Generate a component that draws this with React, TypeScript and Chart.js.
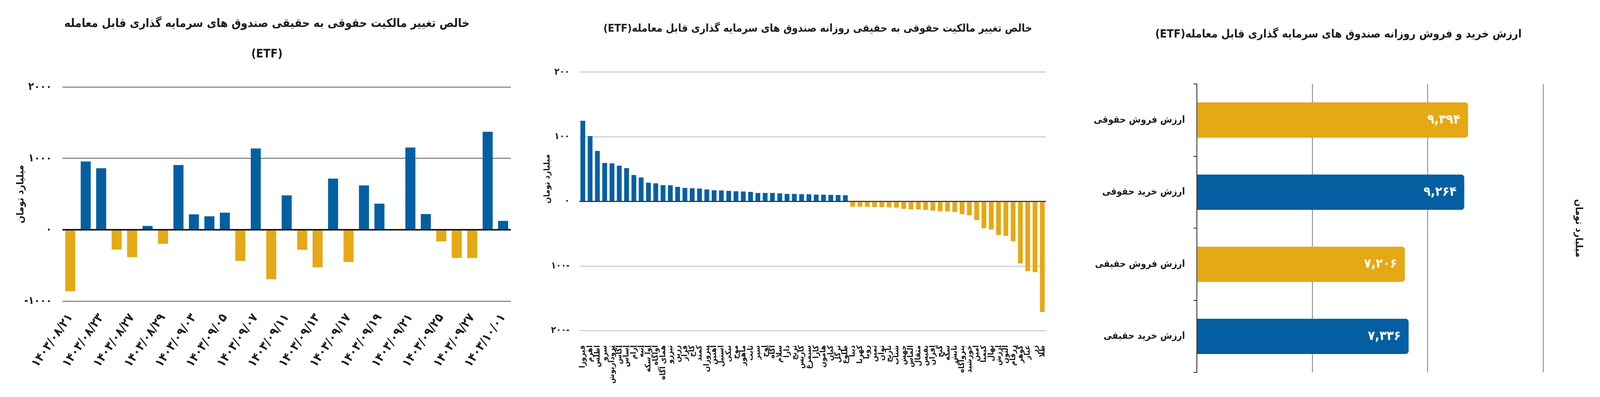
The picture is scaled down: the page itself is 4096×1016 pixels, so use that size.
import React, { useEffect, useRef } from 'react';
import { Chart, registerables } from 'chart.js';

Chart.register(...registerables);

const S = 4096 / 4171;
const FONT = "'DejaVu Sans Condensed', 'DejaVu Sans', sans-serif";
const BLUE = '#045fa2';
const YELLOW = '#e5a916';
const INK = '#1e1c1c';

const fa = (s: string) => s.replace(/\d/g, (d) => '۰۱۲۳۴۵۶۷۸۹'[Number(d)]);

// ---------- Panel 1: net change of legal-to-real ownership (by date) ----------
const title1 = ['خالص تغییر مالکیت حقوقی به حقیقی صندوق های سرمایه گذاری قابل معامله', '(ETF)'];
const dates1 = [
  '1403/08/21', '1403/08/22', '1403/08/23', '1403/08/26', '1403/08/27', '1403/08/28', '1403/08/29', '1403/08/30',
  '1403/09/03', '1403/09/04', '1403/09/05', '1403/09/06', '1403/09/07', '1403/09/10', '1403/09/11', '1403/09/12',
  '1403/09/13', '1403/09/14', '1403/09/17', '1403/09/18', '1403/09/19', '1403/09/20', '1403/09/21', '1403/09/24',
  '1403/09/25', '1403/09/26', '1403/09/27', '1403/09/28', '1403/10/01',
];
const netChange1 = [
  -862, 957, 863, -278, -383, 53, -198, 908,
  216, 189, 240, -437, 1139, -693, 482, -281,
  -528, 718, -452, 622, 365, 0, 1153, 220,
  -163, -394, -396, 1373, 125,
];
const yTicks1 = [-1000, 0, 1000, 2000];
const unitLabel = 'میلیارد تومان';

// ---------- Panel 2: daily net change by fund ----------
const title2 = 'خالص تغییر مالکیت حقوقی به حقیقی روزانه صندوق های سرمایه گذاری قابل معامله(ETF)';
const funds2 = [
  'فیروزا', 'اهرم', 'اطلس', 'سرو', 'ثروداریوش', 'آگاس', 'آساس', 'آرام', 'آتیه', 'آوا سکه',
  'آواگاه', 'همای آگاه', 'تیزرو', 'زرین', 'فراز', 'کاج', 'کمند', 'پیروزان', 'آهنین', 'استیل',
  'نیکی', 'موج', 'ماهور', 'ثابت', 'سپر', 'اوج', 'آگاه', 'سلام', 'دارا', 'ترنج',
  'کاریس', 'سیمرغ', 'کارا', 'هامون', 'کیان', 'ترگل', 'طلوع', 'دیبا', 'کهربا', 'رویا',
  'ثمین', 'توان', 'نارنج', 'شتاب', 'جهش', 'الماس', 'مثقال', 'نفیس', 'افران', 'گنج',
  'سکه', 'تابش', 'پتروآگاه', 'خورشید', 'امین', 'کیمیا', 'نهال', 'ارزش', 'آلتون', 'زرفام',
  'گوهر', 'عیار', 'زر', 'طلا',
];
const netChange2 = [
  124.8, 101.0, 78.0, 59.5, 58.9, 55.2, 51.5, 40.7, 37.0, 29.0,
  27.9, 25.1, 24.8, 22.4, 20.9, 20.3, 19.9, 18.5, 17.2, 16.8,
  16.2, 15.6, 15.4, 14.8, 13.1, 13.1, 13.1, 12.5, 11.5, 11.5,
  11.1, 10.9, 10.5, 10.3, 10.1, 9.9, 9.4, -8.2, -8.2, -8.6,
  -8.8, -8.8, -9.2, -9.8, -11.5, -12.3, -12.3, -13.3, -14.5, -15.3,
  -15.5, -16.4, -19.8, -21.5, -29.0, -41.7, -43.6, -52.1, -53.4, -61.8,
  -95.9, -107.8, -109.6, -171.2,
];

// ---------- Panel 3: daily buy / sell value ----------
const title3 = 'ارزش خرید و فروش روزانه صندوق های سرمایه گذاری قابل معامله(ETF)';
const categories3 = ['ارزش فروش حقوقی', 'ارزش خرید حقوقی', 'ارزش فروش حقیقی', 'ارزش خرید حقیقی'];
const values3 = [9394, 9264, 7206, 7336];
const colors3 = [YELLOW, BLUE, YELLOW, BLUE];

const font = (size: number, lineHeight?: number) => ({
  family: FONT,
  size: size * S,
  weight: 'bold' as const,
  ...(lineHeight ? { lineHeight } : {}),
});

const H = 1035;

function ChartPanel({ left, width, make }: { left: number; width: number; make: () => any }) {
  const ref = useRef<HTMLCanvasElement | null>(null);
  useEffect(() => {
    const chart = new Chart(ref.current as HTMLCanvasElement, make());
    return () => chart.destroy();
  }, []);
  const w = Math.round(width * S);
  const h = Math.round(H * S);
  return (
    <canvas
      ref={ref}
      width={w}
      height={h}
      style={{ position: 'absolute', left: Math.round(left * S), top: 0, width: w, height: h, direction: 'rtl' }}
    />
  );
}

// vertical unit title beside the plot area
const sideTitle = (id: string, dx: number, yAbs: number | null, rot: number, size: number) => ({
  id,
  afterDraw(chart: any) {
    const { ctx, chartArea } = chart;
    const x = rot < 0 ? chartArea.left - dx * S : chartArea.right + dx * S;
    const y = yAbs !== null ? yAbs * S : (chartArea.top + chartArea.bottom) / 2;
    ctx.save();
    ctx.translate(x, y);
    ctx.rotate(rot);
    ctx.font = `bold ${size * S}px ${FONT}`;
    ctx.fillStyle = INK;
    ctx.textAlign = 'center';
    ctx.textBaseline = 'middle';
    ctx.fillText(unitLabel, 0, 0);
    ctx.restore();
  },
});

// chart heading, centred at an offset from the plot area's left edge
const headTitle = (id: string, text: string, dx: number, y: number, size: number) => ({
  id,
  afterDraw(chart: any) {
    const { ctx, chartArea } = chart;
    ctx.save();
    ctx.font = `bold ${size * S}px ${FONT}`;
    ctx.fillStyle = INK;
    ctx.textAlign = 'center';
    ctx.textBaseline = 'middle';
    ctx.fillText(text, chartArea.left + dx * S, y * S);
    ctx.restore();
  },
});

const make1 = () => ({
  type: 'bar',
  data: {
    labels: dates1.map(fa),
    datasets: [
      {
        data: netChange1,
        backgroundColor: netChange1.map((v) => (v >= 0 ? BLUE : YELLOW)),
        barPercentage: 0.65,
        categoryPercentage: 1,
      },
    ],
  },
  options: {
    responsive: false,
    maintainAspectRatio: false,
    animation: false,
    layout: { padding: { left: 57 * S, right: 35 * S, top: 0, bottom: 0 } },
    plugins: {
      legend: { display: false },
      tooltip: { enabled: false },
      title: {
        display: true,
        text: title1,
        color: INK,
        font: font(30.7, 80 / 30.7),
        padding: { top: 22 * S, bottom: 45 * S },
      },
    },
    scales: {
      x: {
        grid: { display: false, drawTicks: false },
        border: { display: false },
        ticks: {
          autoSkip: false,
          minRotation: 55,
          maxRotation: 55,
          padding: 26 * S,
          color: INK,
          font: font(32),
          callback: function (this: any, v: any, i: number) {
            return i % 2 === 0 ? this.getLabelForValue(v) : '';
          },
        },
        afterFit: (s: any) => {
          s.height = (H - 785) * S;
        },
      },
      y: {
        min: yTicks1[0],
        max: yTicks1[yTicks1.length - 1],
        ticks: {
          stepSize: 1000,
          padding: 28 * S,
          color: INK,
          font: font(28),
          callback: (v: number) => (v < 0 ? fa(String(-v)) + '-' : fa(String(v))),
        },
        grid: {
          drawTicks: false,
          color: (c: any) => (c.tick && c.tick.value === 0 ? '#1a1a1a' : '#5c5c5c'),
          lineWidth: (c: any) => (c.tick && c.tick.value === 0 ? 4 * S : 2 * S),
        },
        border: { display: false },
        afterFit: (s: any) => {
          s.width = (163 - 57) * S;
        },
      },
    },
  },
  plugins: [sideTitle('unit1', 109, null, -Math.PI / 2, 26)],
});

const make2 = () => ({
  type: 'bar',
  data: {
    labels: funds2,
    datasets: [
      {
        data: netChange2,
        backgroundColor: netChange2.map((v) => (v >= 0 ? BLUE : YELLOW)),
        barPercentage: 0.655,
        categoryPercentage: 1,
      },
    ],
  },
  options: {
    responsive: false,
    maintainAspectRatio: false,
    animation: false,
    layout: { padding: { left: 0, right: 29 * S, top: 188 * S, bottom: 0 } },
    plugins: {
      legend: { display: false },
      tooltip: { enabled: false },
      title: { display: false },
    },
    scales: {
      x: {
        grid: { display: false, drawTicks: false },
        border: { display: false },
        ticks: {
          autoSkip: false,
          minRotation: 90,
          maxRotation: 90,
          padding: 38 * S,
          color: INK,
          font: font(20.5),
        },
        afterFit: (s: any) => {
          s.height = (H - 862) * S;
        },
      },
      y: {
        min: -200,
        max: 200,
        ticks: {
          stepSize: 100,
          padding: 25 * S,
          color: INK,
          font: font(24),
          callback: (v: number) => (v < 0 ? '-' + fa(String(-v)) : fa(String(v))),
        },
        grid: {
          drawTicks: false,
          color: (c: any) => (c.tick && c.tick.value === 0 ? '#3a3a3a' : '#c9c9c9'),
          lineWidth: (c: any) => (c.tick && c.tick.value === 0 ? 3 * S : 2.5 * S),
        },
        border: { display: false },
        afterFit: (s: any) => {
          s.width = 130 * S;
        },
      },
    },
  },
  plugins: [headTitle('head2', title2, 622, 75, 27.8), sideTitle('unit2', 83, 466, -Math.PI / 2, 22)],
});

const valueLabels = {
  id: 'valueLabels3',
  afterDatasetsDraw(chart: any) {
    const { ctx } = chart;
    const meta = chart.getDatasetMeta(0);
    ctx.save();
    ctx.font = `bold ${34 * S}px ${FONT}`;
    ctx.fillStyle = '#ffffff';
    ctx.textAlign = 'right';
    ctx.textBaseline = 'middle';
    meta.data.forEach((bar: any, i: number) => {
      ctx.fillText(fa(values3[i].toLocaleString('en-US')), bar.x - 20 * S, bar.y);
    });
    ctx.restore();
  },
};

const make3 = () => ({
  type: 'bar',
  data: {
    labels: categories3,
    datasets: [
      {
        data: values3,
        backgroundColor: colors3,
        barPercentage: 0.49,
        categoryPercentage: 1,
        borderRadius: 8 * S,
      },
    ],
  },
  options: {
    indexAxis: 'y',
    responsive: false,
    maintainAspectRatio: false,
    animation: false,
    layout: { padding: { left: 0, right: 148 * S, top: 219 * S, bottom: 64 * S } },
    plugins: {
      legend: { display: false },
      tooltip: { enabled: false },
      title: { display: false },
    },
    scales: {
      x: {
        min: 0,
        max: 12000,
        ticks: { display: false, stepSize: 4000 },
        grid: { drawTicks: false, color: '#3a3a3a', lineWidth: 1.3 * S },
        border: { display: false },
        afterFit: (s: any) => {
          s.height = 0;
        },
      },
      y: {
        grid: { drawOnChartArea: false, drawTicks: true, tickLength: 9 * S, color: '#222', lineWidth: 2 * S, offset: true },
        border: { display: true, color: '#222', width: 2 * S },
        ticks: { padding: 22 * S, color: INK, font: font(25) },
        afterFit: (s: any) => {
          s.width = 330 * S;
        },
      },
    },
  },
  plugins: [valueLabels, headTitle('head3', title3, 369, 90, 29.4), sideTitle('unit3', 92, null, Math.PI / 2, 26)],
});

export default function App() {
  return (
    <div
      style={{
        position: 'fixed',
        left: 0,
        top: 0,
        width: 4096,
        height: 1016,
        background: '#ffffff',
        overflow: 'hidden',
      }}
    >
      <ChartPanel left={0} width={1370} make={make1} />
      <ChartPanel left={1380} width={1400} make={make2} />
      <ChartPanel left={2790} width={1381} make={make3} />
    </div>
  );
}
